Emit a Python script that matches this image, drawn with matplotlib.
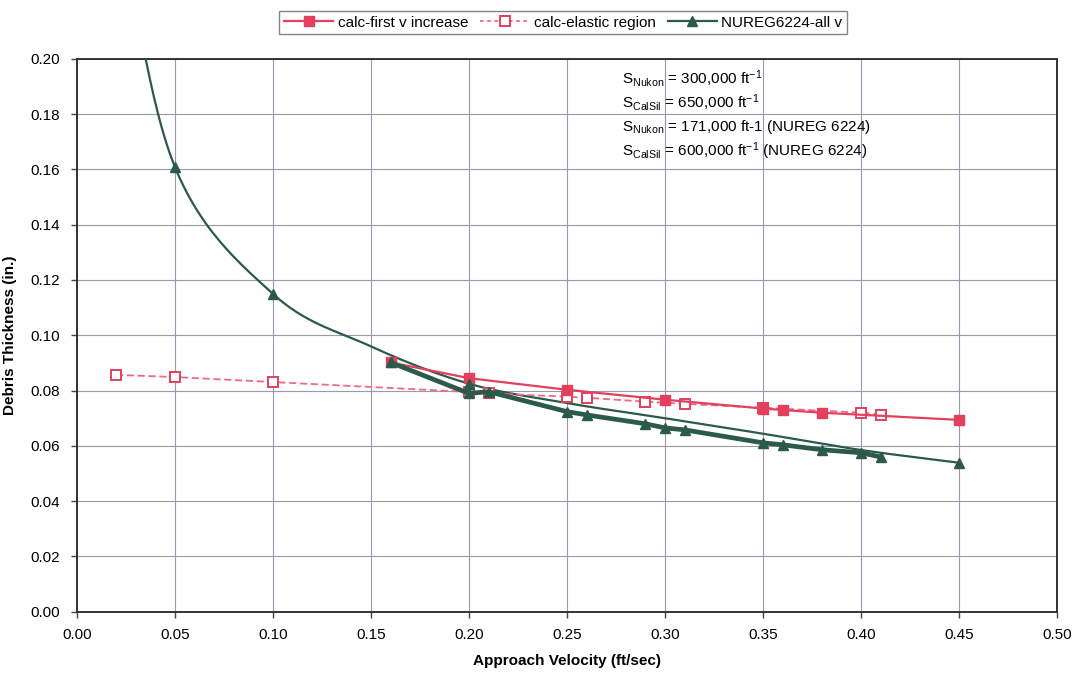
import numpy as np
import matplotlib
matplotlib.use("Agg")
import matplotlib.pyplot as plt

plt.rcParams['font.family'] = ['Liberation Sans', 'DejaVu Sans']
plt.rcParams['mathtext.fontset'] = 'custom'
plt.rcParams['mathtext.rm'] = 'Liberation Sans'
plt.rcParams['mathtext.it'] = 'Liberation Sans'

# calc-first v increase (filled squares)
first_v = [0.16, 0.20, 0.25, 0.30, 0.35, 0.36, 0.38, 0.45]
first_t = [0.0902, 0.0845, 0.0803, 0.0767, 0.0735, 0.0730, 0.0720, 0.0694]

# calc-elastic region (open squares, dashed)
elastic_v = [0.02, 0.05, 0.10, 0.20, 0.21, 0.25, 0.26, 0.29, 0.31, 0.35, 0.40, 0.41]
elastic_t = [0.0857, 0.0849, 0.0831, 0.0795, 0.0790, 0.0778, 0.0774, 0.0760, 0.0752, 0.0738, 0.0720, 0.0713]

# NUREG6224-all v : smooth curve + points
nureg_curve_v = [0.02, 0.05, 0.10, 0.15, 0.20, 0.25, 0.30, 0.35, 0.40, 0.45]
nureg_curve_t = [0.255, 0.161, 0.115, 0.0960, 0.0825, 0.0755, 0.0700, 0.0644, 0.0585, 0.0539]
nureg_mark_idx = [1, 2, 4, 9]
nureg_v = [0.16, 0.20, 0.21, 0.25, 0.26, 0.29, 0.30, 0.31, 0.35, 0.36, 0.38, 0.40, 0.41]
nureg_t = [0.0902, 0.0790, 0.0796, 0.0724, 0.0712, 0.0680, 0.0665, 0.0658, 0.0611, 0.0604, 0.0586, 0.0575, 0.0560]

notes = [r'S$_{\mathrm{Nukon}}$ = 300,000 ft$^{\mathrm{-1}}$',
         r'S$_{\mathrm{CalSil}}$ = 650,000 ft$^{\mathrm{-1}}$',
         r'S$_{\mathrm{Nukon}}$ = 171,000 ft-1 (NUREG 6224)',
         r'S$_{\mathrm{CalSil}}$ = 600,000 ft$^{\mathrm{-1}}$ (NUREG 6224)']

red = '#e2405c'
pink = '#ee6a84'
green = '#2c5a4a'


def smooth(xs, ys, n=30):
    # catmull-rom style smoothing, like excel's smoothed line
    x = np.asarray(xs, float)
    y = np.asarray(ys, float)
    px = np.concatenate([[2 * x[0] - x[1]], x, [2 * x[-1] - x[-2]]])
    py = np.concatenate([[2 * y[0] - y[1]], y, [2 * y[-1] - y[-2]]])
    outx, outy = [], []
    t = np.linspace(0, 1, n)
    for i in range(1, len(px) - 2):
        for arr, out in ((px, outx), (py, outy)):
            p0, p1, p2, p3 = arr[i - 1], arr[i], arr[i + 1], arr[i + 2]
            out.extend(0.5 * ((2 * p1) + (-p0 + p2) * t + (2 * p0 - 5 * p1 + 4 * p2 - p3) * t ** 2
                              + (-p0 + 3 * p1 - 3 * p2 + p3) * t ** 3))
    return np.array(outx), np.array(outy)


fig = plt.figure(figsize=(10.81, 6.76), dpi=100)
ax = fig.add_axes([0.071, 0.095, 0.907, 0.818])

sx, sy = smooth(nureg_curve_v, nureg_curve_t)
ax.plot(sx, sy, color=green, lw=1.6, zorder=3)
ax.plot([nureg_curve_v[i] for i in nureg_mark_idx], [nureg_curve_t[i] for i in nureg_mark_idx],
        ls='none', marker='^', ms=7, color=green, zorder=4)

ax.plot(elastic_v, elastic_t, ls=(0, (4, 2)), lw=1.3, color=pink, marker='s', ms=7,
        mfc='white', mec=red, mew=1.4, zorder=3)
ax.plot(first_v, first_t, ls='-', lw=1.6, color=red, marker='s', ms=7, zorder=3)
ax.plot(nureg_v, nureg_t, ls='-', lw=3.4, color=green, marker='^', ms=7, zorder=4)

h1, = ax.plot([], [], ls='-', lw=1.6, color=red, marker='s', ms=7)
h2, = ax.plot([], [], ls=(0, (2, 2)), lw=1.3, color=pink, marker='s', ms=7, mfc='white', mec=red, mew=1.4)
h3, = ax.plot([], [], ls='-', lw=1.6, color=green, marker='^', ms=7)
leg = fig.legend([h1, h2, h3], ['calc-first v increase', 'calc-elastic region', 'NUREG6224-all v'],
                 loc='upper center', bbox_to_anchor=(0.521, 0.995), ncol=3, fontsize=11,
                 frameon=True, fancybox=False, edgecolor='#666666', handlelength=3.2,
                 handletextpad=0.3, columnspacing=0.8, borderpad=0.3)
leg.get_frame().set_linewidth(1.0)

for i, s in enumerate(notes):
    ax.text(0.278, 0.1929 - i * 0.0088, s, fontsize=11, va='center', ha='left')

ax.set_xlim(0, 0.5)
ax.set_ylim(0, 0.2)
ax.set_xticks(np.arange(0, 0.51, 0.05))
ax.set_yticks(np.arange(0, 0.201, 0.02))
ax.xaxis.set_major_formatter(matplotlib.ticker.FormatStrFormatter('%.2f'))
ax.yaxis.set_major_formatter(matplotlib.ticker.FormatStrFormatter('%.2f'))
ax.tick_params(labelsize=11, length=4, width=1, color='#444444', pad=8)
ax.grid(True, color='#9a98b0', lw=0.8)
ax.set_axisbelow(True)
for sp in ax.spines.values():
    sp.set_linewidth(1.4)
    sp.set_color('#333333')

ax.set_xlabel('Approach Velocity (ft/sec)', fontsize=11, fontweight='bold', labelpad=8)
ax.set_ylabel('Debris Thickness (in.)', fontsize=11, fontweight='bold', labelpad=10)

fig.savefig('out.png', dpi=100)
